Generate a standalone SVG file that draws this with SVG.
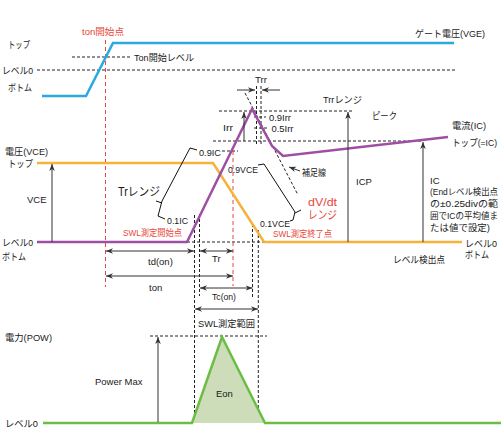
<svg xmlns="http://www.w3.org/2000/svg" width="501" height="428" viewBox="0 0 501 428">
<defs>
<marker id="ah" viewBox="0 0 10 10" refX="10" refY="5" markerWidth="7" markerHeight="7" orient="auto-start-reverse" markerUnits="userSpaceOnUse">
<path d="M0,1 L10,5 L0,9 L3,5 Z" fill="#333"/>
</marker>
</defs>
<style>
text{font-family:"Liberation Sans","Noto Sans CJK JP",sans-serif;font-size:9.5px;fill:#1a1a1a}
.red{fill:#e8473a}
.big{font-size:12px}
.dv{font-size:11.5px}
.sm{font-size:8.6px}
.dash{stroke:#222;stroke-width:1;stroke-dasharray:3 2;fill:none}
.rdash{stroke:#e8473a;stroke-width:1;stroke-dasharray:4 3;fill:none}
.arr{stroke:#333;stroke-width:1;fill:none;marker-end:url(#ah)}
.darr{stroke:#333;stroke-width:1;fill:none;marker-start:url(#ah);marker-end:url(#ah)}
.br{stroke:#111;stroke-width:1;fill:none}
.wave{fill:none;stroke-width:2.5;stroke-linejoin:miter}
</style>
<rect width="501" height="428" fill="#ffffff"/>

<g id="guides">
<line class="dash" x1="37" y1="70" x2="456" y2="70"/>
<line class="dash" x1="72" y1="57" x2="130" y2="57"/>
<line class="dash" x1="219" y1="111" x2="352" y2="111"/>
<line class="dash" x1="213" y1="141" x2="423" y2="141"/>
<line class="dash" x1="222" y1="151" x2="238" y2="151"/>
<line class="dash" x1="254" y1="117" x2="266" y2="117"/>
<line class="dash" x1="254" y1="128" x2="269" y2="128"/>
<line class="dash" x1="256.5" y1="86" x2="256.5" y2="144"/>
<line class="dash" x1="261" y1="86" x2="261" y2="144"/>
<line class="dash" x1="245" y1="93" x2="298" y2="195"/>
<line class="dash" x1="187" y1="242" x2="264" y2="242"/>
<line class="dash" x1="194.5" y1="215" x2="194.5" y2="418"/>
<line class="dash" x1="199.5" y1="214" x2="199.5" y2="296"/>
<line class="dash" x1="252.5" y1="224" x2="252.5" y2="297"/>
<line class="dash" x1="258.3" y1="230" x2="258.3" y2="418"/>
<line class="dash" x1="150" y1="336" x2="267" y2="336"/>
<line class="rdash" x1="105.5" y1="40" x2="105.5" y2="287"/>
<line class="rdash" x1="233" y1="151" x2="233" y2="286"/>
</g>

<g id="waveforms">
<polygon points="192,423 222,337 265,423" fill="#cddcb9"/>
<polyline id="vge" class="wave" stroke="#29a9e0" points="42,96 86,96 113,43 454,43"/>
<polyline id="vce" class="wave" stroke="#f6b23a" points="37,163 213,163 264,242 462,242"/>
<polyline id="ic" class="wave" stroke="#9e4fa3" points="37,242 187,242 252,109 272,146 283,156 448,137"/>
<polyline id="pow" class="wave" stroke="#6cbd45" points="43,423 192,423 222,337 265,423 501,423"/>
</g>

<g id="connectors">
<line class="darr" x1="106" y1="251" x2="194" y2="251"/>
<line class="darr" x1="200" y1="251" x2="233" y2="251"/>
<line class="darr" x1="106" y1="276" x2="233" y2="276"/>
<line class="darr" x1="200" y1="288" x2="252.5" y2="288"/>
<line class="darr" x1="195" y1="309" x2="258" y2="309"/>
<line class="arr" x1="52" y1="242" x2="52" y2="164"/>
<line class="arr" x1="348" y1="242" x2="348" y2="112"/>
<line class="arr" x1="423" y1="242" x2="423" y2="142"/>
<line class="arr" x1="244" y1="141" x2="244" y2="112"/>
<line class="arr" x1="158" y1="422" x2="158" y2="337"/>
<line class="arr" x1="237" y1="90" x2="255" y2="90"/>
<line class="arr" x1="280" y1="90" x2="262" y2="90"/>
<line class="arr" x1="300" y1="171" x2="289" y2="167"/>
<path class="br" d="M197,150 L190,148 L162,201 L158,216 L165,219 M162,203 L156,201"/>
<path class="br" d="M258,165 L264,164 L295,212 L293,220 L290,221 M295,213 L301,210"/>
</g>

<g id="labels-gate">
<text class="red" x="82" y="34.5" textLength="42" lengthAdjust="spacingAndGlyphs">ton開始点</text>
<text x="415" y="36.5" textLength="70" lengthAdjust="spacingAndGlyphs">ゲート電圧(VGE)</text>
<text x="8" y="47.5" textLength="22" lengthAdjust="spacingAndGlyphs">トップ</text>
<text x="134" y="60.5" textLength="60" lengthAdjust="spacingAndGlyphs">Ton開始レベル</text>
<text x="2" y="73.5" textLength="31" lengthAdjust="spacingAndGlyphs">レベル0</text>
<text x="8" y="90.5" textLength="24" lengthAdjust="spacingAndGlyphs">ボトム</text>
</g>

<g id="labels-current">
<text x="255" y="83" font-size="9" textLength="12" lengthAdjust="spacingAndGlyphs">Trr</text>
<text x="323" y="102.5" textLength="39" lengthAdjust="spacingAndGlyphs">Trrレンジ</text>
<text x="372" y="118.5" textLength="25" lengthAdjust="spacingAndGlyphs">ピーク</text>
<text x="452" y="128.5" textLength="34" lengthAdjust="spacingAndGlyphs">電流(IC)</text>
<text x="452" y="145.5" textLength="45" lengthAdjust="spacingAndGlyphs">トップ(=IC)</text>
<text x="223" y="130.5" textLength="10" lengthAdjust="spacingAndGlyphs">Irr</text>
<text x="269" y="120.5" textLength="22" lengthAdjust="spacingAndGlyphs">0.9Irr</text>
<text x="271.5" y="131.5" textLength="22" lengthAdjust="spacingAndGlyphs">0.5Irr</text>
<text x="199" y="156" textLength="22" lengthAdjust="spacingAndGlyphs">0.9IC</text>
<text x="167" y="223.5" textLength="21" lengthAdjust="spacingAndGlyphs">0.1IC</text>
<text x="356" y="184.5">ICP</text>
<text x="430" y="183.5">IC</text>
<text class="sm" x="430" y="194.5" textLength="68" lengthAdjust="spacingAndGlyphs">(Endレベル検出点</text>
<text class="sm" x="430" y="206.5" textLength="68" lengthAdjust="spacingAndGlyphs">の±0.25divの範</text>
<text class="sm" x="430" y="219" textLength="68" lengthAdjust="spacingAndGlyphs">囲でICの平均値ま</text>
<text class="sm" x="430" y="230.5" textLength="60" lengthAdjust="spacingAndGlyphs">たは値で設定)</text>
<text x="465" y="246.5" textLength="32" lengthAdjust="spacingAndGlyphs">レベル0</text>
<text x="465" y="258" textLength="24" lengthAdjust="spacingAndGlyphs">ボトム</text>
<text x="393" y="262.5" textLength="52" lengthAdjust="spacingAndGlyphs">レベル検出点</text>
</g>

<g id="labels-voltage">
<text x="5" y="154.5" textLength="43" lengthAdjust="spacingAndGlyphs">電圧(VCE)</text>
<text x="8" y="166.5" textLength="25" lengthAdjust="spacingAndGlyphs">トップ</text>
<text x="27" y="202.5">VCE</text>
<text class="big" x="118" y="196" textLength="42" lengthAdjust="spacingAndGlyphs">Trレンジ</text>
<text class="red" x="123" y="235.5" textLength="59" lengthAdjust="spacingAndGlyphs">SWL測定開始点</text>
<text x="2" y="245.5" textLength="31" lengthAdjust="spacingAndGlyphs">レベル0</text>
<text x="2" y="259.5" textLength="24" lengthAdjust="spacingAndGlyphs">ボトム</text>
<text x="228" y="172.5" textLength="30" lengthAdjust="spacingAndGlyphs">0.9VCE</text>
<text x="302" y="175.5" textLength="24" lengthAdjust="spacingAndGlyphs">補足線</text>
<text class="red dv" x="308" y="205.5" textLength="29" lengthAdjust="spacingAndGlyphs">dV/dt</text>
<text class="red dv" x="308" y="218.5" textLength="29" lengthAdjust="spacingAndGlyphs">レンジ</text>
<text x="260" y="226.5" textLength="30" lengthAdjust="spacingAndGlyphs">0.1VCE</text>
<text class="red" x="273" y="237" textLength="59" lengthAdjust="spacingAndGlyphs">SWL測定終了点</text>
</g>

<g id="labels-timing">
<text x="148" y="264.5">td(on)</text>
<text x="212" y="261.5">Tr</text>
<text x="149" y="290.5">ton</text>
<text x="212" y="299.5" textLength="24" lengthAdjust="spacingAndGlyphs">Tc(on)</text>
<text x="198" y="326.5" textLength="57" lengthAdjust="spacingAndGlyphs">SWL測定範囲</text>
</g>

<g id="labels-power">
<text x="5" y="340.5" textLength="47" lengthAdjust="spacingAndGlyphs">電力(POW)</text>
<text x="95" y="384.5">Power Max</text>
<text x="216" y="396.5" font-size="10">Eon</text>
<text x="5" y="426.5" textLength="33" lengthAdjust="spacingAndGlyphs">レベル0</text>
</g>
</svg>
